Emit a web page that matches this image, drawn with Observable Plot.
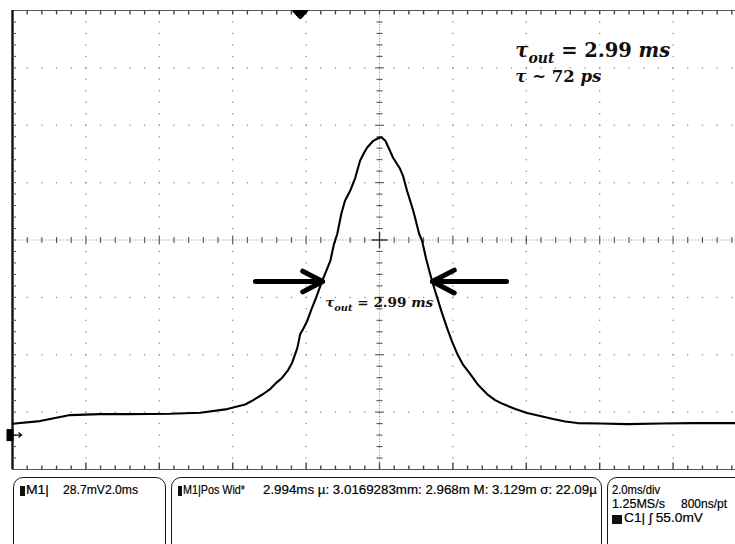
<!DOCTYPE html>
<html>
<head>
<meta charset="utf-8">
<script src="https://cdn.jsdelivr.net/npm/d3@7"></script>
<script src="https://cdn.jsdelivr.net/npm/@observablehq/plot@0.6"></script>
<style>
  html, body { margin: 0; padding: 0; background: #fff; }
  body { width: 735px; height: 544px; overflow: hidden; position: relative; }
  #chart { position: absolute; left: 0; top: 0; width: 748px; }
  #chart svg { max-width: none !important; width: 748px; height: 474px; }
  .box { position: absolute; top: 477px; height: 90px; border: 1.8px solid #1a1a1a; border-radius: 10px; box-sizing: border-box; }
  .lbl { position: absolute; font-family: "Liberation Sans", Arial, sans-serif; font-size: 13.6px; line-height: 14px; color: #000; white-space: pre; transform-origin: 0 0; -webkit-text-stroke: 0.2px #000; }
  .blk { position: absolute; background: #111; }
</style>
</head>
<body>
<div id="chart"></div>
<div class="box" style="left:13px; width:153px;"></div>
<div class="box" style="left:171px; width:431px;"></div>
<div class="box" style="left:607px; width:160px;"></div>
<div id="readouts"></div>
<script>
// ---- scope settings (read from the readout) ----
const msPerDiv = 2.0;          // time base
const mVperDiv = 28.7;         // M1 vertical scale
const groundDiv = -3.4;        // ground marker position relative to centre (divisions)
const triggerTime = [-2.16];   // ms, trigger marker at top

// ---- waveform (time in ms relative to centre, voltage in mV above ground) ----
const timeMs = [-10.0, -9.25, -8.43, -7.61, -6.79, -5.70, -4.88, -4.15, -3.66, -3.44,
  -3.19, -2.98, -2.79, -2.65, -2.49, -2.38, -2.24, -2.16, -2.08, -1.97,
  -1.86, -1.73, -1.56, -1.45, -1.34, -1.24, -1.15, -1.04, -0.94, -0.80,
  -0.66, -0.53, -0.42, -0.34, -0.17, -0.04, 0.05, 0.16, 0.26, 0.37,
  0.56, 0.64, 0.75, 0.92, 1.08, 1.16, 1.27, 1.38, 1.49, 1.60,
  1.71, 1.84, 1.98, 2.12, 2.28, 2.47, 2.69, 2.93, 3.15, 3.37,
  3.70, 4.02, 4.38, 4.73, 5.06, 5.39, 6.01, 6.75, 7.65, 8.55,
  9.69, 10.0];
const signalMv = [5.7, 7.0, 10.0, 10.5, 10.5, 10.7, 11.2, 13.0, 15.3, 17.5,
  20.3, 23.0, 26.5, 28.7, 32.5, 36.2, 43.5, 50.6, 53.1, 57.1,
  62.6, 68.6, 77.1, 82.1, 87.1, 95.6, 100.7, 110.7, 117.2, 122.2,
  128.7, 137.2, 141.2, 143.7, 147.2, 148.5, 149.0, 147.2, 143.2, 138.7,
  133.2, 129.7, 122.2, 112.2, 100.7, 97.2, 88.2, 80.6, 73.6, 67.1,
  60.6, 53.6, 46.6, 40.6, 35.1, 30.6, 25.0, 20.5, 17.5, 15.5,
  13.0, 11.0, 9.5, 8.0, 6.8, 6.0, 5.8, 5.5, 5.8, 6.0,
  6.0, 6.0];

// ---- FWHM arrows ----
const arrowFrom = [-3.38, 3.46];
const arrowTo = [-1.55, 1.44];
const arrowLevel = [76.8, 76.8];

// ---- annotations ----
const noteText = ["τ_out = 2.99 ms", "τ ~ 72 ps", "τ_out = 2.99 ms"];
const noteX = [3.70, 3.70, -1.48];
const noteY = [192.0, 179.5, 66.0];
const noteSize = [19.5, 16.5, 13.6];

// ---- readouts (text, left edge, baseline, rendered width) ----
const readouts = [
  {x: 26, base: 495, w: 23, t: "M1|"},
  {x: 63, base: 495, w: 75, t: "28.7mV2.0ms"},
  {x: 183, base: 495, w: 62, t: "M1|Pos Wid*"},
  {x: 263, base: 495, w: 334, t: "2.994ms µ: 3.0169283mm: 2.968m M: 3.129m σ: 22.09µ"},
  {x: 612, base: 495, w: 48, t: "2.0ms/div"},
  {x: 612, base: 508.5, w: 53, t: "1.25MS/s"},
  {x: 681, base: 508.5, w: 46, t: "800ns/pt"},
  {x: 624, base: 523, w: 79, t: "C1| ʃ 55.0mV"}
];
const readoutBlocks = [
  {x: 20, y: 486, w: 5, h: 10},
  {x: 178, y: 486, w: 4, h: 10},
  {x: 612, y: 515, w: 10, h: 9}
];

// ---- derived geometry ----
const yCenter = -groundDiv * mVperDiv;
const yLo = yCenter - 4 * mVperDiv, yHi = yCenter + 4 * mVperDiv;
const xLo = -5 * msPerDiv, xHi = 5 * msPerDiv;
const xMajor = d3.range(0, 11).map(i => xLo + i * msPerDiv);
const yMajor = d3.range(0, 9).map(i => yLo + i * mVperDiv);
const xMinor = d3.range(0, 51).map(i => xLo + i * msPerDiv / 5);
const yMinor = d3.range(0, 41).map(i => yLo + i * mVperDiv / 5);

const gridDots = [];
for (const gx of xMajor.slice(1, -1)) if (Math.abs(gx) > 1e-9)
  for (const gy of yMinor.slice(1, -1)) gridDots.push({x: gx, y: gy});
for (const gy of yMajor.slice(1, -1)) if (Math.abs(gy - yCenter) > 1e-6)
  for (const gx of xMinor.slice(1, -1)) gridDots.push({x: gx, y: gy});

const wave = timeMs.map((t, i) => ({t, v: signalMv[i]}));
const arrows = arrowFrom.map((f, i) => ({x1: f, x2: arrowTo[i], y: arrowLevel[i]}));
const notes = noteText.map((s, i) => ({s, x: noteX[i], y: noteY[i], size: noteSize[i]}));

const seg = (x1, y1, x2, y2) => ({draw(c) { c.moveTo(x1, y1); c.lineTo(x2, y2); }});
const vTick = seg(0, -3, 0, 3), hTick = seg(-3, 0, 3, 0);
const vTickBig = seg(0, -4.5, 0, 4.5), hTickBig = seg(-4.5, 0, 4.5, 0);
const downTick = seg(0, 0, 0, 4), upTick = seg(0, 0, 0, -4), upTickBig = seg(0, 0, 0, -7);
const rightTick = seg(0, 0, 3.5, 0);
const crossSym = {draw(c) { c.moveTo(-8, 0); c.lineTo(8, 0); c.moveTo(0, -8); c.lineTo(0, 8); }};
const trigSym = {draw(c) { c.moveTo(-8, 0); c.lineTo(8, 0); c.lineTo(1, 8); c.lineTo(-1, 8); c.closePath(); }};
const gndSym = {draw(c) { c.rect(-6, -6, 7, 12); }};
const gndArrow = {draw(c) { c.moveTo(1, 0); c.lineTo(9, 0); c.moveTo(6, -2.5); c.lineTo(9, 0); c.lineTo(6, 2.5); }};

const xMinorIn = xMinor.slice(1, -1).filter(v => Math.abs(v) > 1e-9);
const yMinorIn = yMinor.slice(1, -1).filter(v => Math.abs(v - yCenter) > 1e-6);
const isMajX = v => xMajor.some(m => Math.abs(m - v) < 1e-6);
const isMajY = v => yMajor.some(m => Math.abs(m - v) < 1e-6);

const chart = Plot.plot({
  width: 748,
  height: 474,
  marginLeft: 12, marginTop: 10, marginRight: 2, marginBottom: 5,
  x: {domain: [xLo, xHi], axis: null},
  y: {domain: [yLo, yHi], axis: null},
  style: {background: "white", overflow: "visible"},
  marks: [
    Plot.dot(gridDots, {x: "x", y: "y", r: 0.75, fill: "#8a8a8a"}),
    Plot.ruleX([0], {stroke: "#999", strokeWidth: 1, strokeDasharray: "1.2,1.6"}),
    Plot.ruleY([yCenter], {stroke: "#999", strokeWidth: 1, strokeDasharray: "1.2,1.6"}),
    Plot.dot(xMinorIn, {x: d => d, y: yCenter, symbol: d => isMajX(d) ? vTickBig : vTick, fill: "none", stroke: "#555", strokeWidth: 1.1}),
    Plot.dot(yMinorIn, {x: 0, y: d => d, symbol: d => isMajY(d) ? hTickBig : hTick, fill: "none", stroke: "#555", strokeWidth: 1.1}),
    Plot.dot([0], {x: 0, y: yCenter, symbol: crossSym, fill: "none", stroke: "#333", strokeWidth: 1.4}),
    Plot.frame({stroke: "#555", strokeWidth: 1}),
    Plot.ruleX([xLo], {stroke: "#111", strokeWidth: 2.4}),
    Plot.dot(xMinor.slice(1, -1), {x: d => d, y: yHi, symbol: downTick, fill: "none", stroke: "#444", strokeWidth: 1.4}),
    Plot.dot(xMinor.slice(1, -1), {x: d => d, y: yLo, symbol: d => isMajX(d) ? upTickBig : upTick, fill: "none", stroke: "#444", strokeWidth: 1.4}),
    Plot.dot(yMinor.slice(1, -1), {x: xLo, y: d => d, symbol: rightTick, fill: "none", stroke: "#555", strokeWidth: 1.1}),
    Plot.line(wave, {x: "t", y: "v", stroke: "#000", strokeWidth: 2.1}),
    Plot.arrow(arrows, {x1: "x1", x2: "x2", y1: "y", y2: "y", stroke: "#000", strokeWidth: 5, headLength: 8, headAngle: 55}),
    Plot.text(notes, {x: "x", y: "y", text: "s", textAnchor: "start", fontSize: "size", fontWeight: "bold", fontFamily: "DejaVu Serif", fill: "#111"}),
    Plot.dot(triggerTime, {x: d => d, y: yHi, symbol: trigSym, fill: "#000", stroke: "#000", strokeWidth: 1}),
    Plot.dot([0], {x: xLo, y: 0, symbol: gndSym, fill: "#000", stroke: "none"}),
    Plot.dot([0], {x: xLo, y: 0, symbol: gndArrow, fill: "none", stroke: "#000", strokeWidth: 1.2})
  ]
});
chart.style.maxWidth = "none";

// rich text: italic letters, "_xxx" subscripts
const NS = "http://www.w3.org/2000/svg";
chart.querySelectorAll("text").forEach(t => {
  const s = t.textContent;
  if (!/τ/.test(s)) return;
  const fs = parseFloat(t.getAttribute("font-size")) || 16;
  const tokens = s.match(/_[A-Za-z]+|[A-Za-zτ]+|[^A-Za-zτ_]+/g);
  t.textContent = "";
  t.style.whiteSpace = "pre";
  let shifted = false;
  for (const tok of tokens) {
    const sp = document.createElementNS(NS, "tspan");
    if (tok[0] === "_") {
      sp.textContent = tok.slice(1);
      sp.setAttribute("font-style", "italic");
      sp.setAttribute("font-size", (fs * 0.72).toFixed(1));
      sp.setAttribute("dy", (fs * 0.28).toFixed(1));
      shifted = true;
    } else {
      sp.textContent = tok;
      if (/[A-Za-zτ]/.test(tok)) sp.setAttribute("font-style", "italic");
      if (shifted) { sp.setAttribute("dy", (-fs * 0.28).toFixed(1)); shifted = false; }
    }
    t.appendChild(sp);
  }
});
document.getElementById("chart").appendChild(chart);

const ro = document.getElementById("readouts");
for (const b of readoutBlocks) {
  const d = document.createElement("div");
  d.className = "blk";
  Object.assign(d.style, {left: b.x + "px", top: b.y + "px", width: b.w + "px", height: b.h + "px"});
  ro.appendChild(d);
}
for (const r of readouts) {
  const d = document.createElement("div");
  d.className = "lbl";
  d.textContent = r.t;
  Object.assign(d.style, {left: r.x + "px", top: (r.base - 12) + "px"});
  ro.appendChild(d);
  const natural = d.getBoundingClientRect().width;
  if (natural > 0) d.style.transform = `scaleX(${(r.w / natural).toFixed(3)})`;
}
</script>
</body>
</html>
